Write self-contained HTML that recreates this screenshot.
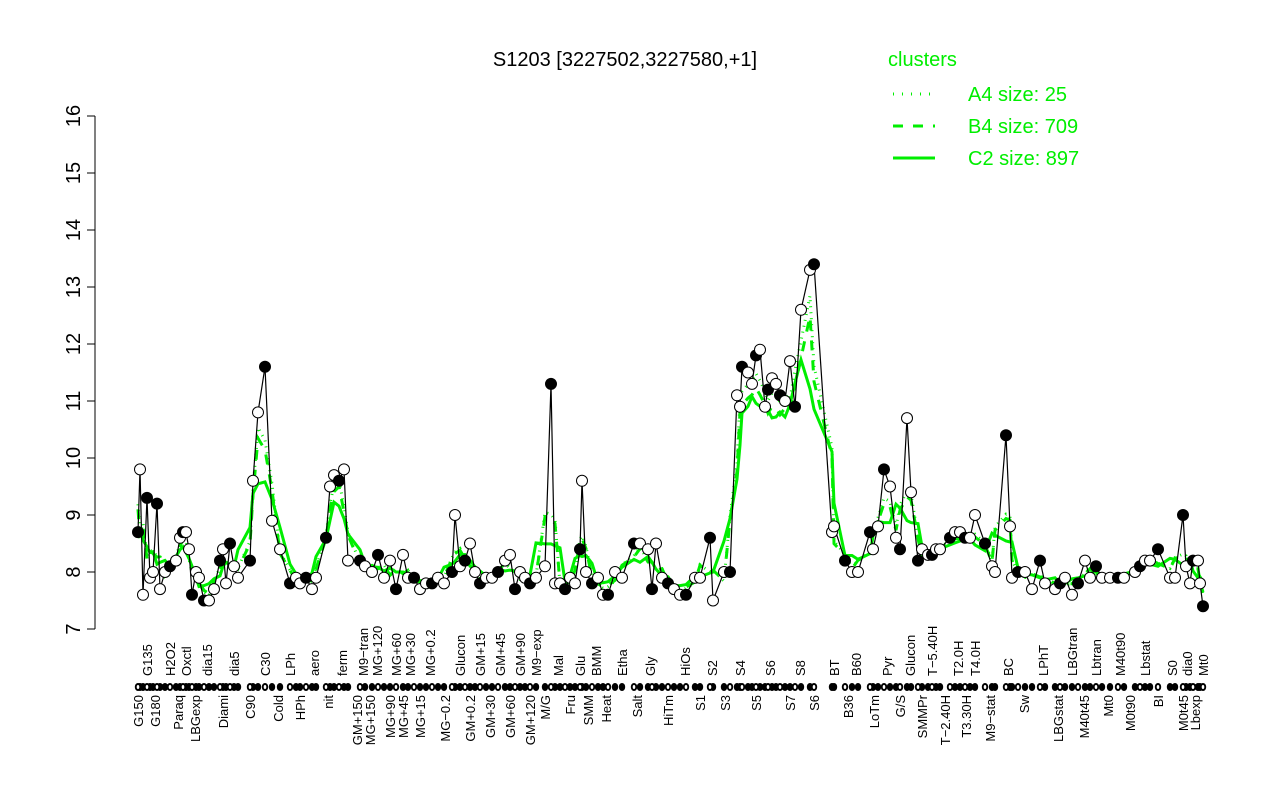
<!DOCTYPE html>
<html><head><meta charset="utf-8"><style>
html,body{margin:0;padding:0;background:#fff;}
svg{display:block;font-family:"Liberation Sans",sans-serif;}
</style></head><body>
<svg id="s" width="1280" height="800" xmlns="http://www.w3.org/2000/svg">
<text x="625" y="66" font-size="20" text-anchor="middle">S1203 [3227502,3227580,+1]</text>
<g fill="#00ee00" font-size="20">
<text x="888" y="66">clusters</text>
<text x="968" y="101">A4 size: 25</text>
<text x="968" y="133">B4 size: 709</text>
<text x="968" y="165">C2 size: 897</text>
</g>
<line x1="893" y1="94" x2="935" y2="94" stroke="#00ee00" stroke-width="3" stroke-dasharray="1,8"/>
<line x1="893" y1="126" x2="935" y2="126" stroke="#00ee00" stroke-width="3" stroke-dasharray="10,10"/>
<line x1="893" y1="158" x2="935" y2="158" stroke="#00ee00" stroke-width="3"/>
<line x1="95" y1="116" x2="95" y2="629" stroke="#000"/>
<g id="yt"></g>
<g id="g"></g>
<g id="p"></g>
<g id="lab" font-size="13"></g>
</svg>
<script>
var ns="http://www.w3.org/2000/svg",S=document.getElementById('s');
function el(t,a,par){var e=document.createElementNS(ns,t);for(var k in a)e.setAttribute(k,a[k]);(par||S).appendChild(e);return e;}
function Y(v){return 629-(v-7)*57;}
var yt=document.getElementById('yt');
for(var v=7;v<=16;v++){var y=Y(v);el('line',{x1:87,x2:95,y1:y,y2:y,stroke:'#000'},yt);
var t=el('text',{x:0,y:0,'font-size':20,'text-anchor':'middle',transform:'translate(80,'+y+') rotate(-90)'},yt);t.textContent=v;}
var d=[138,8.7,140,9.8,143,7.6,147,9.3,150,7.9,153,8.0,157,9.2,160,7.7,165,8.0,170,8.1,176,8.2,180,8.6,183,8.7,186,8.7,189,8.4,192,7.6,196,8.0,199,7.9,204,7.5,209,7.5,214,7.7,220,8.2,223,8.4,226,7.8,230,8.5,234,8.1,238,7.9,250,8.2,253,9.6,258,10.8,265,11.6,272,8.9,280,8.4,290,7.8,296,7.9,300,7.8,306,7.9,312,7.7,316,7.9,326,8.6,330,9.5,334,9.7,339,9.6,344,9.8,348,8.2,360,8.2,365,8.1,372,8.0,378,8.3,384,7.9,390,8.2,396,7.7,403,8.3,408,7.9,414,7.9,420,7.7,426,7.8,432,7.8,438,7.9,444,7.8,452,8.0,455,9.0,460,8.1,465,8.2,470,8.5,475,8.0,480,7.8,486,7.9,492,7.9,498,8.0,505,8.2,510,8.3,515,7.7,520,8.0,525,7.9,530,7.8,536,7.9,545,8.1,551,11.3,555,7.8,560,7.8,565,7.7,570,7.9,575,7.8,580,8.4,582,9.6,586,8.0,592,7.8,598,7.9,603,7.6,608,7.6,615,8.0,622,7.9,634,8.5,640,8.5,648,8.4,652,7.7,656,8.5,662,7.9,668,7.8,674,7.7,680,7.6,686,7.6,695,7.9,700,7.9,710,8.6,713,7.5,724,8.0,730,8.0,737,11.1,740,10.9,742,11.6,748,11.5,752,11.3,756,11.8,760,11.9,765,10.9,768,11.2,772,11.4,776,11.3,780,11.1,785,11.0,790,11.7,795,10.9,801,12.6,810,13.3,814,13.4,832,8.7,834,8.8,845,8.2,852,8.0,858,8.0,870,8.7,873,8.4,878,8.8,884,9.8,890,9.5,896,8.6,900,8.4,907,10.7,911,9.4,918,8.2,922,8.4,928,8.3,932,8.3,936,8.4,940,8.4,950,8.6,955,8.7,960,8.7,965,8.6,970,8.6,975,9.0,985,8.5,992,8.1,995,8.0,1006,10.4,1010,8.8,1012,7.9,1018,8.0,1025,8.0,1032,7.7,1040,8.2,1045,7.8,1055,7.7,1060,7.8,1065,7.9,1072,7.6,1078,7.8,1085,8.2,1090,7.9,1096,8.1,1102,7.9,1110,7.9,1118,7.9,1124,7.9,1135,8.0,1140,8.1,1145,8.2,1150,8.2,1158,8.4,1170,7.9,1175,7.9,1183,9.0,1186,8.1,1190,7.8,1193,8.2,1198,8.2,1200,7.8,1203,7.4];
var X=[],V=[];for(var i=0;i<d.length;i+=2){X.push(d[i]);V.push(d[i+1]);}
function smooth(w,f){var s=[];for(var i=0;i<V.length;i++){var a=0,n=0;for(var j=i-w;j<=i+w;j++)if(j>=0&&j<V.length){a+=V[j];n++;}s.push(8+(a/n-8)*f);}return s;}
var G=document.getElementById('g');
function line(arr,dash,w){var p='';for(var i=0;i<X.length;i++)p+=(i?'L':'M')+X[i]+','+Y(arr[i]).toFixed(1);
el('path',{d:p,fill:'none',stroke:'#00ee00','stroke-width':w,'stroke-dasharray':dash},G);}
line(smooth(2,0.85),'',3);line(smooth(1,0.88),'10,10',3);line(smooth(1,0.95),'1,5',3);
var P=document.getElementById('p'),pd='';
for(var i=0;i<X.length;i++)pd+=(i?'L':'M')+X[i]+','+Y(V[i]).toFixed(1);
el('path',{d:pd,fill:'none',stroke:'#000','stroke-width':1.2},P);
for(var i=0;i<X.length;i++){var f=((i*7)%3==0)?'#000':'#fff';
el('circle',{cx:X[i],cy:Y(V[i]),r:5.5,fill:f,stroke:'#000','stroke-width':1},P);}
for(var i=0;i<X.length;i++){el('ellipse',{cx:X[i],cy:687,rx:3.2,ry:4,fill:'#000'},P);}
for(var i=0;i<X.length;i+=3){el('ellipse',{cx:X[i],cy:687,rx:1.3,ry:2,fill:'#fff'},P);}
var L=[[138,'G150'],[147,'G135'],[155,'G180'],[170,'H2O2'],[178,'Paraq'],[186,'Oxctl'],[195,'LBGexp'],[207,'dia15'],[223,'Diami'],[234,'dia5'],[250,'C90'],[265,'C30'],[278,'Cold'],[290,'LPh'],[300,'HPh'],[314,'aero'],[328,'nit'],[342,'ferm'],[357,'GM+150'],[363,'M9\u2212tran'],[370,'MG+150'],[377,'MG+120'],[390,'MG+90'],[396,'MG+60'],[403,'MG+45'],[410,'MG+30'],[420,'MG+15'],[430,'MG+0.2'],[445,'MG\u22120.2'],[460,'Glucon'],[470,'GM+0.2'],[480,'GM+15'],[490,'GM+30'],[500,'GM+45'],[510,'GM+60'],[520,'GM+90'],[530,'GM+120'],[536,'M9\u2212exp'],[545,'M/G'],[558,'Mal'],[570,'Fru'],[580,'Glu'],[588,'SMM'],[596,'BMM'],[606,'Heat'],[622,'Etha'],[637,'Salt'],[650,'Gly'],[668,'HiTm'],[685,'HiOs'],[700,'S1'],[712,'S2'],[725,'S3'],[740,'S4'],[756,'S5'],[770,'S6'],[790,'S7'],[800,'S8'],[814,'S6'],[834,'BT'],[848,'B36'],[856,'B60'],[874,'LoTm'],[887,'Pyr'],[900,'G/S'],[910,'Glucon'],[922,'SMMPr'],[932,'T\u22125.40H'],[945,'T\u22122.40H'],[958,'T2.0H'],[966,'T3.30H'],[975,'T4.0H'],[990,'M9\u2212stat'],[1008,'BC'],[1024,'Sw'],[1043,'LPhT'],[1058,'LBGstat'],[1072,'LBGtran'],[1084,'M40t45'],[1096,'Lbtran'],[1108,'Mt0'],[1120,'M40t90'],[1130,'M0t90'],[1145,'Lbstat'],[1158,'BI'],[1172,'S0'],[1183,'M0t45'],[1187,'dia0'],[1195,'Lbexp'],[1203,'Mt0']];
var LB=document.getElementById('lab');
L.forEach(function(a,i){var up=(i%2==1);
var t=el('text',{x:0,y:0,'text-anchor':up?'start':'end',transform:'translate('+(a[0]+5)+','+(up?676:695)+') rotate(-90)'},LB);t.textContent=a[1];});
</script>
</body></html>
